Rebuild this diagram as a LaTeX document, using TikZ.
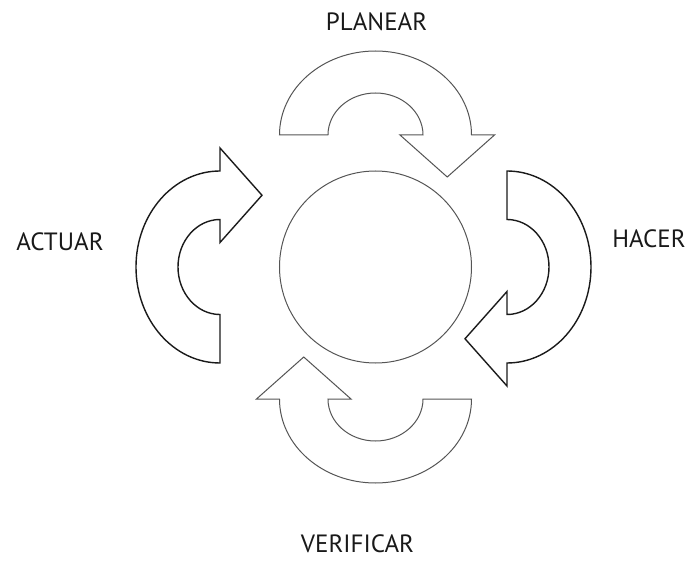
\documentclass[tikz,border=0pt]{standalone}
\usepackage{fontspec}
\setmainfont{PT Sans}
\usetikzlibrary{positioning}
\definecolor{CycleGrey}{HTML}{555555}
\definecolor{CycleDark}{HTML}{1A1A1A}
\tikzset{
    % Stage labels
    stage label/.style={
        inner sep=0pt,
        text=black!90,
        font=\fontsize{25}{30}\selectfont
    },
    % Centre circle
    hub/.style={
        circle,
        draw=CycleGrey,
        line width=1pt,
        minimum size=192pt,
        inner sep=0pt
    },
    % Outline of the curved arrows
    arrow light/.style={
        draw=CycleGrey,
        fill=white,
        line width=1pt
    },
    arrow dark/.style={
        draw=CycleDark,
        fill=white,
        line width=1.4pt
    },
    % U-turn arrow: arcs on top, head on the right pointing down
    turn arrow/.pic={
        \path[pic actions] (-96,0)
            arc[start angle=180, end angle=0, x radius=96, y radius=84]
            -- (119,0) -- (71.75,-42) -- (24.5,0) -- (47.5,0)
            arc[start angle=0, end angle=180, x radius=47.5, y radius=42]
            -- cycle;
    }
}
\begin{document}
\begin{tikzpicture}[x=1pt, y=1pt]
        \useasboundingbox (-375.5,-295) rectangle (312.5,267);

        % Centre
        \node[hub] (centre) at (0,0) {};

        % Curved arrows
        \pic[arrow light] (plan) at (0,132) {turn arrow};
        \pic[arrow dark, rotate=-90] (do) at (131.5,0) {turn arrow};
        \pic[arrow light, rotate=180] (check) at (0,-132) {turn arrow};
        \pic[arrow dark, rotate=90] (act) at (-155.5,0) {turn arrow};

        % Labels
        \node[stage label] (planear) at (1,245) {PLANEAR};
        \node[stage label] (hacer) at (273.5,28) {HACER};
        \node[stage label] (verificar) at (-18,-277) {VERIFICAR};
        \node[stage label] (actuar) at (-315.5,25) {ACTUAR};
    \end{tikzpicture}
\end{document}
